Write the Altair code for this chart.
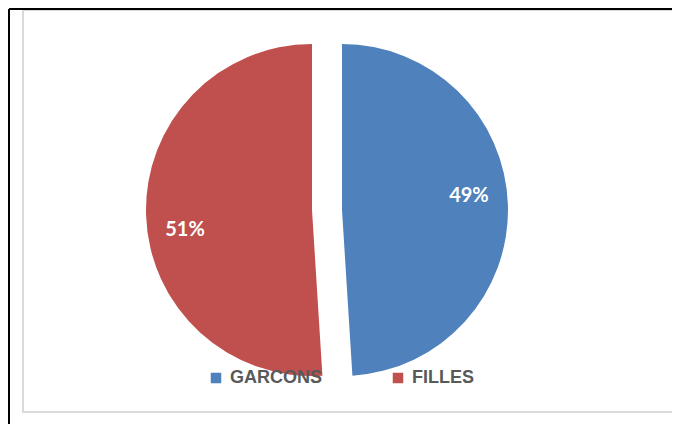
import altair as alt
import pandas as pd

categories = ["GARCONS", "FILLES"]
values = [49, 51]
labels = ["49%", "51%"]
colors = ["#4F81BD", "#C0504D"]

df = pd.DataFrame({"cat": categories, "value": values, "label": labels,
                   "order": list(range(len(categories)))})

base = alt.Chart(df).transform_window(
    cum="sum(value)", sort=[alt.SortField("order")]
).transform_joinaggregate(total="sum(value)").transform_calculate(
    t0="(datum.cum - datum.value) / datum.total * 2 * PI",
    t1="datum.cum / datum.total * 2 * PI",
    tm="(datum.cum - datum.value / 2) / datum.total * 2 * PI",
)

color = alt.Color("cat:N", scale=alt.Scale(domain=categories, range=colors),
                  sort=categories,
                  legend=alt.Legend(title=None, orient="none", direction="horizontal",
                                    legendX=198, legendY=360, symbolType="square",
                                    symbolSize=110, symbolStrokeWidth=0,
                                    labelFont="Liberation Sans", labelFontSize=18,
                                    labelFontWeight="bold", labelColor="#595959",
                                    columnPadding=66, labelOffset=5))

R = 166
centers = {"GARCONS": (333, 201, -10), "FILLES": (303, 201, 16)}

layers = []
frame = alt.Chart(df).mark_rect(filled=False, stroke="#d9d9d9", strokeWidth=2).encode(
    x=alt.value(14), x2=alt.value(664), y=alt.value(1), y2=alt.value(403))
vline = alt.Chart(df).mark_rule(color="black", strokeWidth=2).encode(
    x=alt.value(0), y=alt.value(0), y2=alt.value(416))
hline = alt.Chart(df).mark_rule(color="black", strokeWidth=2).encode(
    x=alt.value(0), x2=alt.value(664), y=alt.value(0))
layers += [frame, vline, hline]

for cat in categories:
    cx, cy, dy = centers[cat]
    sub = base.transform_filter(alt.datum.cat == cat)
    arc = sub.mark_arc(x=cx, y=cy, outerRadius=R).encode(
        theta=alt.Theta("t0:Q", scale=None), theta2="t1:Q", color=color)
    txt = sub.mark_text(x=cx, y=cy, radius=127, dy=dy, font="Lato", fontSize=20,
                        fontWeight="bold", color="white").encode(
        theta=alt.Theta("tm:Q", scale=None), text="label:N")
    layers += [arc, txt]

chart = alt.layer(*layers).properties(
    width=664, height=416, padding=0,
    autosize=alt.AutoSizeParams(type="fit", contains="padding"),
).configure_view(stroke=None)

chart.save("out.html", embed_options={"renderer": "svg", "actions": False})
